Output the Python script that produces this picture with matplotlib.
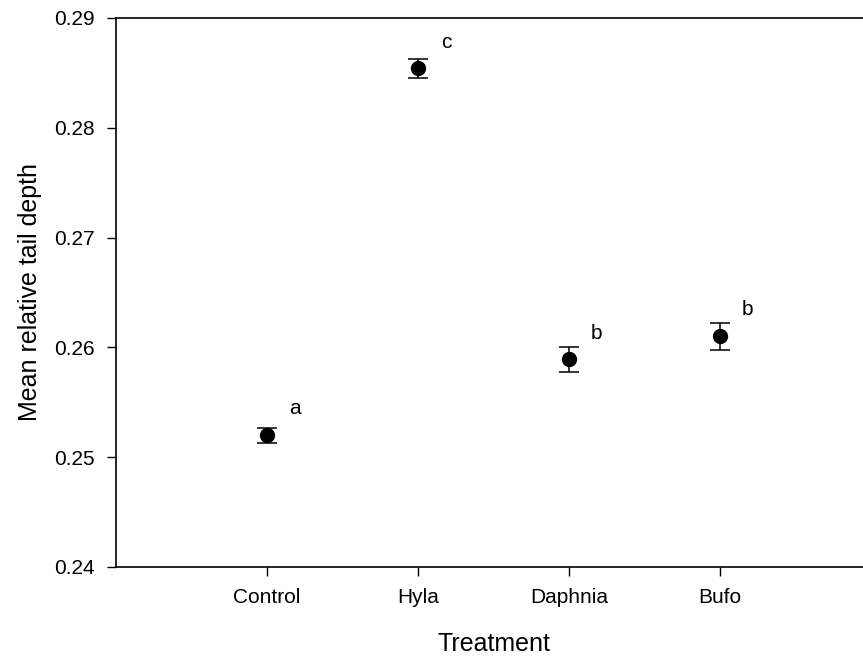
import matplotlib.pyplot as plt

treatments = ["Control", "Hyla", "Daphnia", "Bufo"]
means = [0.2520, 0.2854, 0.2589, 0.2610]
errors = [0.0007, 0.0009, 0.0011, 0.0012]
letters = ["a", "c", "b", "b"]

plt.rcParams["font.family"] = ["Liberation Sans", "DejaVu Sans"]


def main() -> None:
    fig = plt.figure(figsize=(8.63, 6.56), dpi=100)
    ax = fig.add_axes([0.1344, 0.1357, 0.875, 0.837])

    x = list(range(1, len(treatments) + 1))
    ax.errorbar(x, means, yerr=errors, fmt="o", color="black", markersize=10,
                capsize=7, elinewidth=1.1, capthick=1.1)

    for xi, yi, letter in zip(x, means, letters):
        ax.annotate(letter, (xi, yi), xytext=(20, 19), textcoords="offset points",
                    ha="center", va="center", fontsize=15)

    ax.set_xlim(0, 5)
    ax.set_ylim(0.24, 0.29)
    ax.set_xticks(x)
    ax.set_xticklabels(treatments)
    ax.set_yticks([0.24, 0.25, 0.26, 0.27, 0.28, 0.29])
    ax.set_yticklabels(["0.24", "0.25", "0.26", "0.27", "0.28", "0.29"])
    ax.tick_params(direction="out", length=6.5, width=1, labelsize=15, pad=8.5)
    for side in ("left", "bottom", "top"):
        ax.spines[side].set_linewidth(1.2)
    ax.spines["right"].set_visible(False)

    ax.set_xlabel("Treatment", fontsize=18, labelpad=18)
    ax.set_ylabel("Mean relative tail depth", fontsize=18, labelpad=9)

    fig.savefig("out.png", dpi=100)


if __name__ == "__main__":
    main()
